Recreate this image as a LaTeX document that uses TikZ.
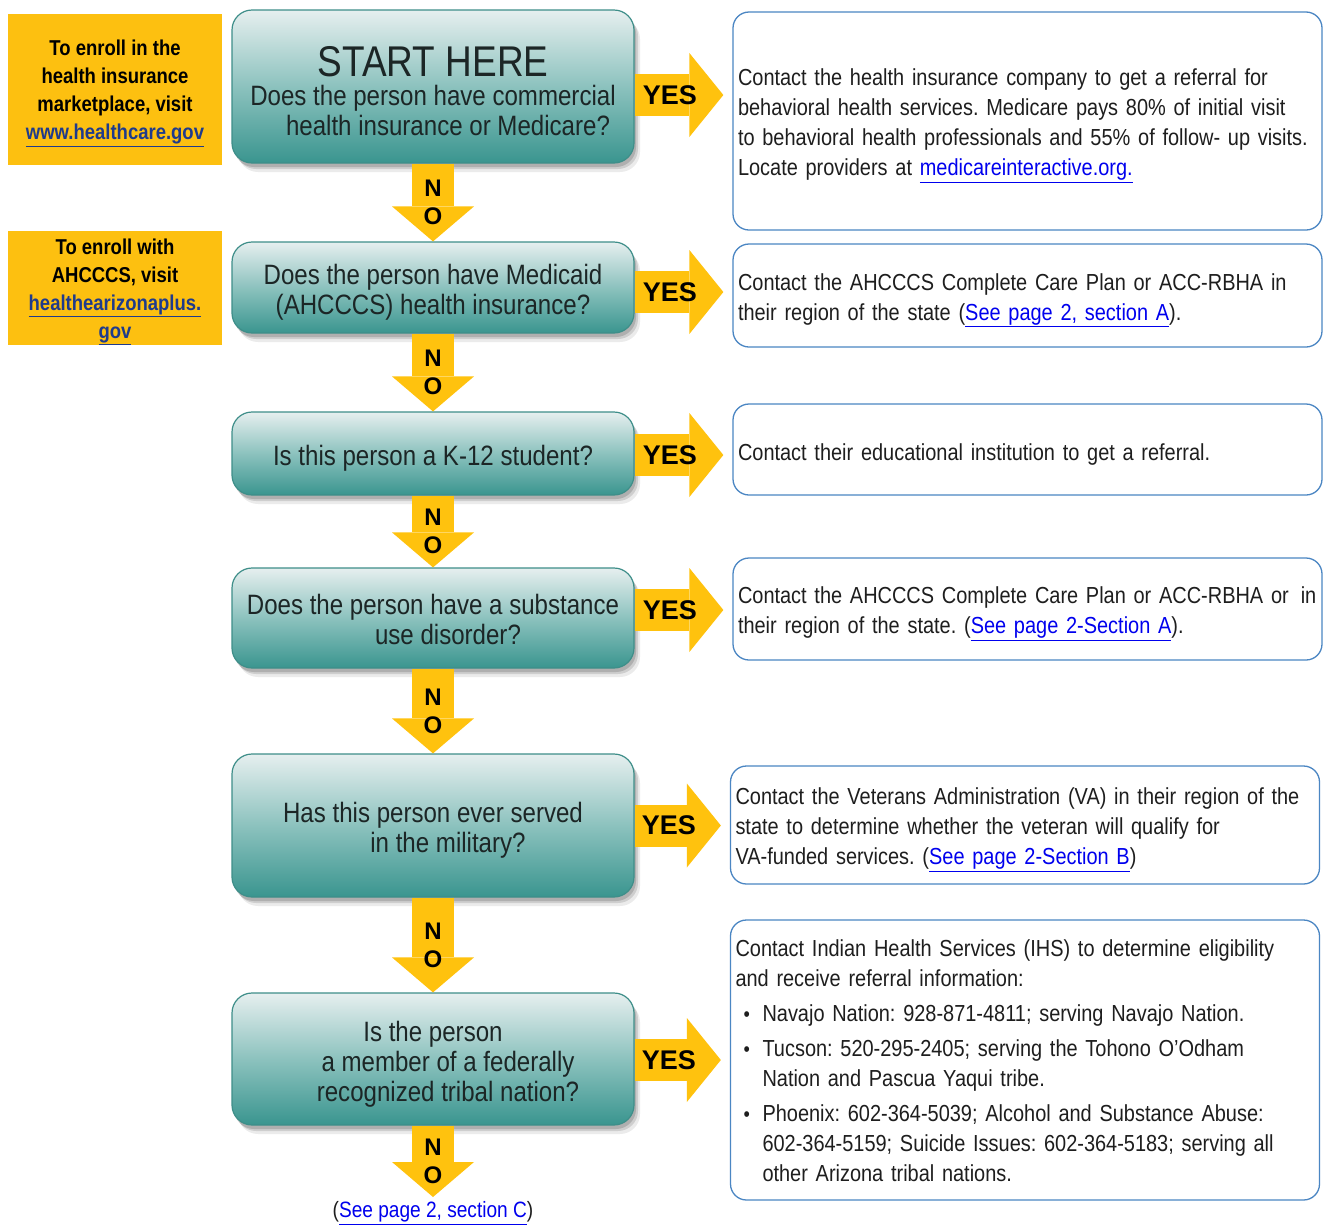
\documentclass[tikz,border=0pt]{standalone}
\usepackage{fontspec}
\setmainfont{Liberation Sans}[FakeStretch=0.86]
\newfontfamily\widefont{Liberation Sans}
\usetikzlibrary{arrows.meta,shadows}
\definecolor{gold}{HTML}{FFC20E}
\definecolor{ygold}{HTML}{FDC010}
\definecolor{teallight}{HTML}{E6EFEF}
\definecolor{tealmid}{HTML}{8CC2BE}
\definecolor{tealdark}{HTML}{3A958F}
\definecolor{tealborder}{HTML}{3E8E89}
\definecolor{rblue}{HTML}{4B86C3}
\definecolor{linkblue}{HTML}{0000EE}
\definecolor{darklink}{HTML}{1F3B8C}
\definecolor{qtext}{HTML}{1C2626}
\definecolor{rtext}{HTML}{1E1E1E}
\newcommand{\lnk}[1]{\textcolor{linkblue}{\underline{#1}}}
\newcommand{\ylnk}[1]{\textcolor{darklink}{\underline{#1}}}
\newcommand{\bul}{\hspace*{8pt}\makebox[19pt][l]{\raisebox{0.5pt}{\fontsize{21}{21}\selectfont\textbullet}}}
\newcommand{\qst}{\rule{0pt}{30pt}}
\newcommand{\rst}{\rule{0pt}{26.5pt}}
\newcommand{\yst}{\rule{0pt}{23.5pt}}
\frenchspacing
\hyphenpenalty=10000
\begin{document}
\begin{tikzpicture}[x=1pt,y=-1pt,
  qbox/.style={draw=tealborder, line width=1.2pt, rounded corners=20pt,
    top color=teallight, bottom color=tealdark, middle color=tealmid,
    align=center, text=qtext, font=\fontsize{28}{30}\selectfont, inner sep=4pt,
    minimum width=402pt,
    drop shadow={shadow xshift=6pt, shadow yshift=-9pt, opacity=0.08, fill=black},
    drop shadow={shadow xshift=4pt, shadow yshift=-6pt, opacity=0.12, fill=black},
    drop shadow={shadow xshift=2pt, shadow yshift=-4pt, opacity=0.15, fill=black}},
  rbox/.style={draw=rblue, line width=1.3pt, rounded corners=16pt, fill=white,
    text width=579pt, inner xsep=5pt, align=left, text=rtext,
    font=\fontsize{23.2}{30}\selectfont},
  ybox/.style={fill=ygold, align=center, text=black, minimum width=214pt,
    inner ysep=0pt, font=\bfseries\fontsize{21.5}{28}\selectfont},
  yesarrow/.style={draw=gold, line width=42pt,
    -{Triangle[width=84pt,length=34pt,line width=0pt]}, shorten >=9pt},
  noarrow/.style={draw=gold, line width=42pt,
    -{Triangle[width=82pt,length=35pt,line width=0pt]}},
  yestext/.style={text=black, inner sep=0pt, font=\widefont\bfseries\fontsize{27}{27}\selectfont},
  notext/.style={text=black, inner sep=0pt, align=center, font=\widefont\bfseries\fontsize{24}{28}\selectfont},
  seetext/.style={text=rtext, inner sep=0pt, font=\fontsize{22.2}{26}\selectfont}
]
\useasboundingbox (0,0) rectangle (1323,1224);
\fill[white] (0,0) rectangle (1323,1224);

% left yellow boxes
\node[ybox, minimum height=151pt] (y1) at (115,89.5)
  {\yst To enroll in the\\ health insurance\\ marketplace, visit\\ \ylnk{www.healthcare.gov}};
\node[ybox, minimum height=112pt] (y2) at (115,288)
  {\yst To enroll with\\ AHCCCS, visit\\ \ylnk{healthearizonaplus.}\\ \ylnk{gov}};

% question boxes
\node[qbox, minimum height=153pt] (q1) at (433,86.5)
  {{\fontsize{43}{43}\selectfont\rule{0pt}{39pt}START HERE}\\[-1pt]
   Does the person have commercial\\ \hspace*{30pt}health insurance or Medicare?};
\node[qbox, minimum height=91pt] (q2) at (433,287.5)
  {\qst Does the person have Medicaid\\ (AHCCCS) health insurance?};
\node[qbox, minimum height=83pt] (q3) at (433,453.5)
  {\qst Is this person a K-12 student?};
\node[qbox, minimum height=100pt] (q4) at (433,618)
  {\rule{0pt}{24pt}Does the person have a substance\\ \hspace*{30pt}use disorder?};
\node[qbox, minimum height=143pt] (q5) at (433,825.5)
  {\qst Has this person ever served\\ \hspace*{30pt}in the military?};
\node[qbox, minimum height=132pt] (q6) at (433,1059)
  {\qst Is the person\\ \hspace*{30pt}a member of a federally\\ \hspace*{30pt}recognized tribal nation?};

% right answer boxes
\node[rbox, minimum height=218pt] (r1) at (1027.5,121)
  {\rst Contact the health insurance company to get a referral for\\
   behavioral health services. Medicare pays 80\% of initial visit\\
   to behavioral health professionals and 55\% of follow- up visits.\\
   Locate providers at \lnk{medicareinteractive.org.}};
\node[rbox, minimum height=103pt] (r2) at (1027.5,295.5)
  {\rst Contact the AHCCCS Complete Care Plan or ACC-RBHA in\\
   their region of the state (\lnk{See page 2, section A}).};
\node[rbox, minimum height=91pt] (r3) at (1027.5,449.5)
  {\rst Contact their educational institution to get a referral.};
\node[rbox, minimum height=102pt] (r4) at (1027.5,609)
  {\rst Contact the AHCCCS Complete Care Plan or ACC-RBHA or\hspace{12pt}in\\
   their region of the state. (\lnk{See page 2-Section A}).};
\node[rbox, minimum height=118pt] (r5) at (1025,825)
  {\rst Contact the Veterans Administration (VA) in their region of the\\
   state to determine whether the veteran will qualify for\\
   VA-funded services. (\lnk{See page 2-Section B})};
\node[rbox, minimum height=280pt] (r6) at (1025,1060)
  {\rule{0pt}{19pt}Contact Indian Health Services (IHS) to determine eligibility\\
   and receive referral information:\\[5pt]
   \bul Navajo Nation: 928-871-4811; serving Navajo Nation.\\[5pt]
   \bul Tucson: 520-295-2405; serving the Tohono O’Odham\\
   \hspace*{27pt}Nation and Pascua Yaqui tribe.\\[5pt]
   \bul Phoenix: 602-364-5039; Alcohol and Substance Abuse:\\
   \hspace*{27pt}602-364-5159; Suicide Issues: 602-364-5183; serving all\\
   \hspace*{27pt}other Arizona tribal nations.};

% YES arrows
\draw[yesarrow] ([yshift=-8.5pt]q1.east) -- node[yestext, pos=0.36]{YES} ([yshift=-8.5pt]q1.east -| r1.west);
\draw[yesarrow] ([yshift=-4.5pt]q2.east) -- node[yestext, pos=0.36]{YES} ([yshift=-4.5pt]q2.east -| r2.west);
\draw[yesarrow] ([yshift=-1.5pt]q3.east) -- node[yestext, pos=0.36]{YES} ([yshift=-1.5pt]q3.east -| r3.west);
\draw[yesarrow] ([yshift=8pt]q4.east) -- node[yestext, pos=0.36]{YES} ([yshift=8pt]q4.east -| r4.west);
\draw[yesarrow] (q5.east) -- node[yestext, pos=0.36]{YES} (q5.east -| r5.west);
\draw[yesarrow] ([yshift=-1pt]q6.east) -- node[yestext, pos=0.36]{YES} ([yshift=-1pt]q6.east -| r6.west);

% NO arrows
\draw[noarrow] (q1.south) -- node[notext]{N\\O} (q2.north);
\draw[noarrow] (q2.south) -- node[notext]{N\\O} (q3.north);
\draw[noarrow] (q3.south) -- node[notext]{N\\O} (q4.north);
\draw[noarrow] (q4.south) -- node[notext]{N\\O} (q5.north);
\draw[noarrow] (q5.south) -- node[notext]{N\\O} (q6.north);
\coordinate (nend) at (433,1197);
\draw[noarrow] (q6.south) -- node[notext]{N\\O} (nend);
\node[seetext] (seec) at (433,1213) {(\lnk{See page 2, section C})};
\end{tikzpicture}
\end{document}
